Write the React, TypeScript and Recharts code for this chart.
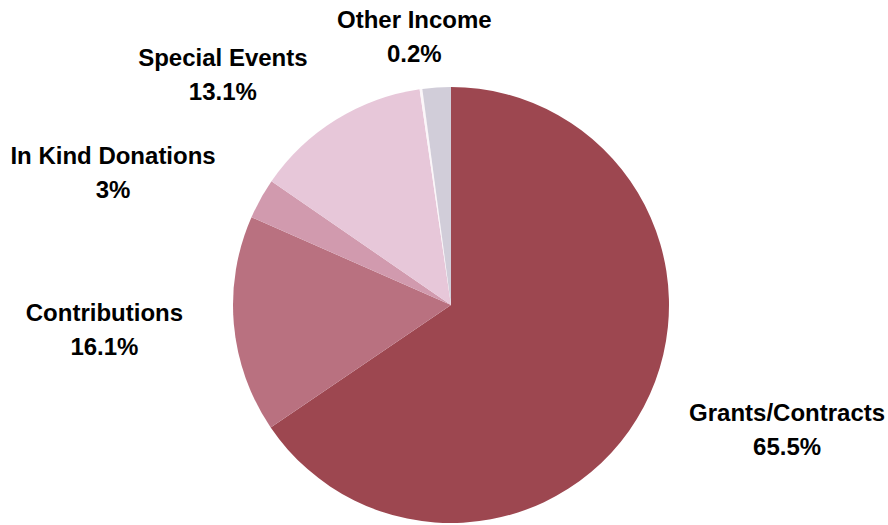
import React from "react";
import { PieChart, Pie, Cell } from "recharts";

const CATEGORIES = [
  "Grants/Contracts",
  "Contributions",
  "In Kind Donations",
  "Special Events",
  "Other Income",
  "",
];
const VALUES = [65.5, 16.1, 3, 13.1, 0.2, 2.1];
const COLORS = ["#9d4750", "#b97180", "#d19aae", "#e7c7d9", "#fbf6f9", "#d1cdd9"];

const FONT = "bold 24px 'Liberation Sans', Arial, sans-serif";
const RADIAN = Math.PI / 180;

const data = CATEGORIES.map((name, i) => ({ name, value: VALUES[i] }));

let ctx: CanvasRenderingContext2D | null = null;
const textWidth = (s: string) => {
  if (!ctx) ctx = document.createElement("canvas").getContext("2d");
  if (!ctx) return s.length * 12;
  ctx.font = FONT;
  return ctx.measureText(s).width;
};

const renderLabel = (props: any) => {
  const { cx, cy, midAngle, outerRadius, name, value } = props;
  if (!name) return null;
  const r = outerRadius + 48;
  const dx = Math.cos(-midAngle * RADIAN);
  const dy = Math.sin(-midAngle * RADIAN);
  const ax = cx + r * dx;
  // labels above the pie sit a little higher
  const ay = cy + r * dy - 5 * Math.max(0, -dy);
  const pct = `${value}%`;
  const w = Math.max(textWidth(name), textWidth(pct));
  let x = ax;
  if (dx > 0.25) x = ax + w / 2 + 3;
  else if (dx < -0.25) x = ax - w / 2 - 3;
  return (
    <g>
      <text
        x={x}
        y={ay - 17}
        textAnchor="middle"
        dominantBaseline="central"
        fill="#000"
        style={{ font: FONT }}
      >
        {name}
      </text>
      <text
        x={x}
        y={ay + 17}
        textAnchor="middle"
        dominantBaseline="central"
        fill="#000"
        style={{ font: FONT }}
      >
        {pct}
      </text>
    </g>
  );
};

export default function App() {
  return (
    <div style={{ position: "absolute", left: 0, top: 0, background: "#fff" }}>
      <PieChart width={888} height={525} margin={{ top: 0, right: 0, bottom: 0, left: 0 }}>
        <Pie
          data={data}
          dataKey="value"
          nameKey="name"
          cx={451}
          cy={305}
          outerRadius={218}
          startAngle={90}
          endAngle={-270}
          stroke="none"
          label={renderLabel}
          labelLine={false}
          isAnimationActive={false}
        >
          {data.map((_, i) => (
            <Cell key={`cell-${i}`} fill={COLORS[i]} />
          ))}
        </Pie>
      </PieChart>
    </div>
  );
}
